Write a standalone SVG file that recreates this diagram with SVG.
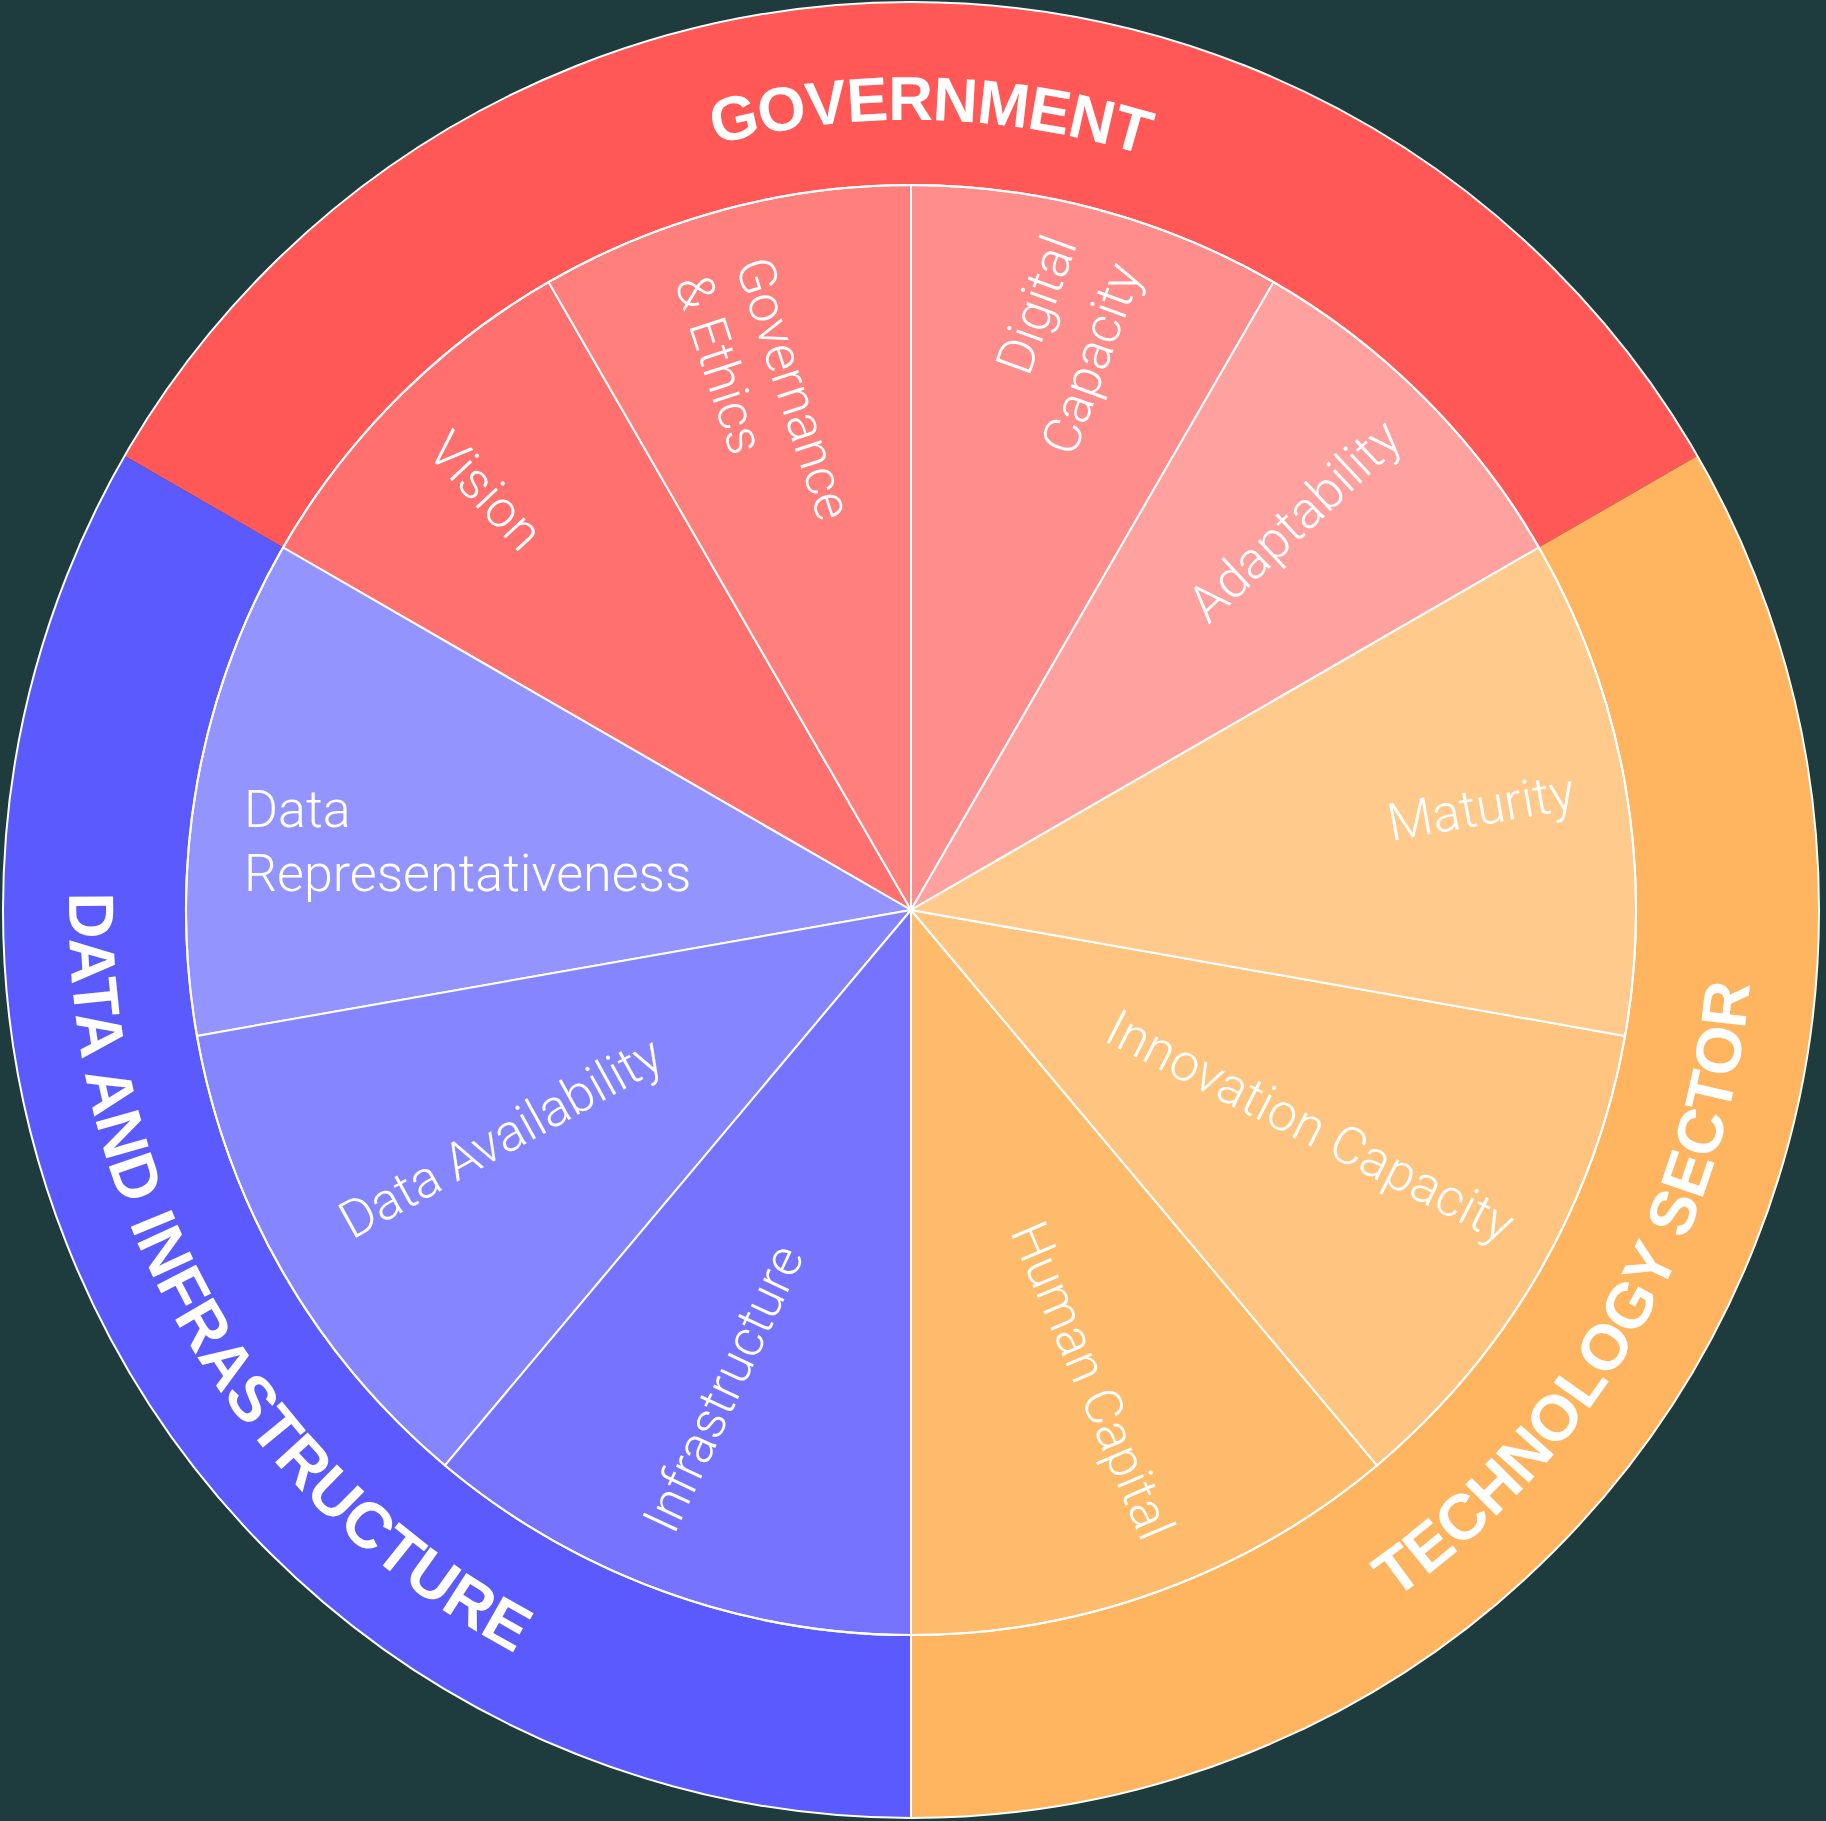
<svg xmlns="http://www.w3.org/2000/svg" width="1826" height="1821" viewBox="0 0 1826 1821">
  <style>
    .wedge { stroke: #ffffff; stroke-width: 2; stroke-linejoin: round; }
    .ring { stroke: none; }
    .lbl { font-family: Roboto, "Liberation Sans", Arial, sans-serif; font-weight: 300; font-size: 52px; fill: #ffffff; }
    .big { font-family: "Liberation Sans", Arial, Helvetica, sans-serif; font-size: 64px; font-weight: bold; fill: #ffffff; }
    .gov { font-size: 62px; letter-spacing: -1px; }
    .edge { fill: none; stroke: #ffffff; stroke-width: 2; }
  </style>
  <defs>
    <path id="arcGov" d="M 418 292.6 A 790 790 0 0 1 1433.4 317.4"/>
    <path id="arcData" d="M 119.8 622 A 842 842 0 0 0 628.5 1703.2"/>
    <path id="arcTech" d="M 1199 1701.2 A 842 842 0 0 0 1740.2 763.8"/>
  </defs>

  <rect x="0" y="0" width="1826" height="1821" fill="#1e3b3d"/>

  <!-- outer ring categories -->
  <g id="government">
    <path class="ring" fill="#ff5856" d="M 911 910 L 1697.3 456 A 908 908 0 0 0 124.7 456 Z"/>
    <text class="big gov"><textPath href="#arcGov" startOffset="50%" text-anchor="middle">GOVERNMENT</textPath></text>
  </g>
  <g id="data-and-infrastructure">
    <path class="ring" fill="#5a5aff" d="M 911 910 L 124.7 456 A 908 908 0 0 0 911 1818 Z"/>
    <text class="big"><textPath href="#arcData" startOffset="55.75%" text-anchor="middle">DATA AND INFRASTRUCTURE</textPath></text>
  </g>
  <g id="technology-sector">
    <path class="ring" fill="#ffb460" d="M 911 910 L 911 1818 A 908 908 0 0 0 1697.3 456 Z"/>
    <text class="big"><textPath href="#arcTech" startOffset="50%" text-anchor="middle">TECHNOLOGY SECTOR</textPath></text>
  </g>

  <!-- inner wedges -->
  <g id="vision">
    <path class="wedge" fill="#ff706e" d="M 911 910 L 548.5 282.1 A 725 725 0 0 0 283.1 547.5 Z"/>
    <text class="lbl" transform="translate(425,452) rotate(47)">Vision</text>
  </g>
  <g id="governance-ethics">
    <path class="wedge" fill="#ff7f7d" d="M 911 910 L 911 185 A 725 725 0 0 0 548.5 282.1 Z"/>
    <text class="lbl" transform="translate(735,264.5) rotate(72)"><tspan x="0" y="0">Governance</tspan><tspan x="-2" y="63">&amp; Ethics</tspan></text>
  </g>
  <g id="digital-capacity">
    <path class="wedge" fill="#ff8d8b" d="M 911 910 L 1273.5 282.1 A 725 725 0 0 0 911 185 Z"/>
    <text class="lbl" transform="translate(1074,458) rotate(-70)"><tspan x="60" y="-70">Digital</tspan><tspan x="0" y="0">Capacity</tspan></text>
  </g>
  <g id="adaptability">
    <path class="wedge" fill="#ffa19f" d="M 911 910 L 1538.9 547.5 A 725 725 0 0 0 1273.5 282.1 Z"/>
    <text class="lbl" transform="translate(1208.4,625) rotate(-43)">Adaptability</text>
  </g>
  <g id="data-representativeness">
    <path class="wedge" fill="#9494ff" d="M 911 910 L 283.1 547.5 A 725 725 0 0 0 197 1035.9 Z"/>
    <text class="lbl"><tspan x="244" y="827">Data</tspan><tspan x="244" y="891">Representativeness</tspan></text>
  </g>
  <g id="data-availability">
    <path class="wedge" fill="#8585ff" d="M 911 910 L 197 1035.9 A 725 725 0 0 0 445 1465.4 Z"/>
    <text class="lbl" transform="translate(352,1240) rotate(-29)">Data Availability</text>
  </g>
  <g id="infrastructure">
    <path class="wedge" fill="#7573ff" d="M 911 910 L 445 1465.4 A 725 725 0 0 0 911 1635 Z"/>
    <text class="lbl" transform="translate(674,1536) rotate(-65)">Infrastructure</text>
  </g>
  <g id="human-capital">
    <path class="wedge" fill="#ffbb6c" d="M 911 910 L 911 1635 A 725 725 0 0 0 1377 1465.4 Z"/>
    <text class="lbl" transform="translate(1009.7,1231.4) rotate(67)">Human Capital</text>
  </g>
  <g id="innovation-capacity">
    <path class="wedge" fill="#ffc47f" d="M 911 910 L 1377 1465.4 A 725 725 0 0 0 1625 1035.9 Z"/>
    <text class="lbl" transform="translate(1102,1040) rotate(27)">Innovation Capacity</text>
  </g>
  <g id="maturity">
    <path class="wedge" fill="#ffca8c" d="M 911 910 L 1625 1035.9 A 725 725 0 0 0 1538.9 547.5 Z"/>
    <text class="lbl" transform="translate(1391,841) rotate(-10)">Maturity</text>
  </g>

  <!-- dividers / outlines -->
  <g id="connectors">
    <circle class="edge" cx="911" cy="910" r="908"/>
    <circle class="edge" cx="911" cy="910" r="725"/>
    <line class="edge" x1="911" y1="1635" x2="911" y2="1818"/>
  </g>
</svg>
